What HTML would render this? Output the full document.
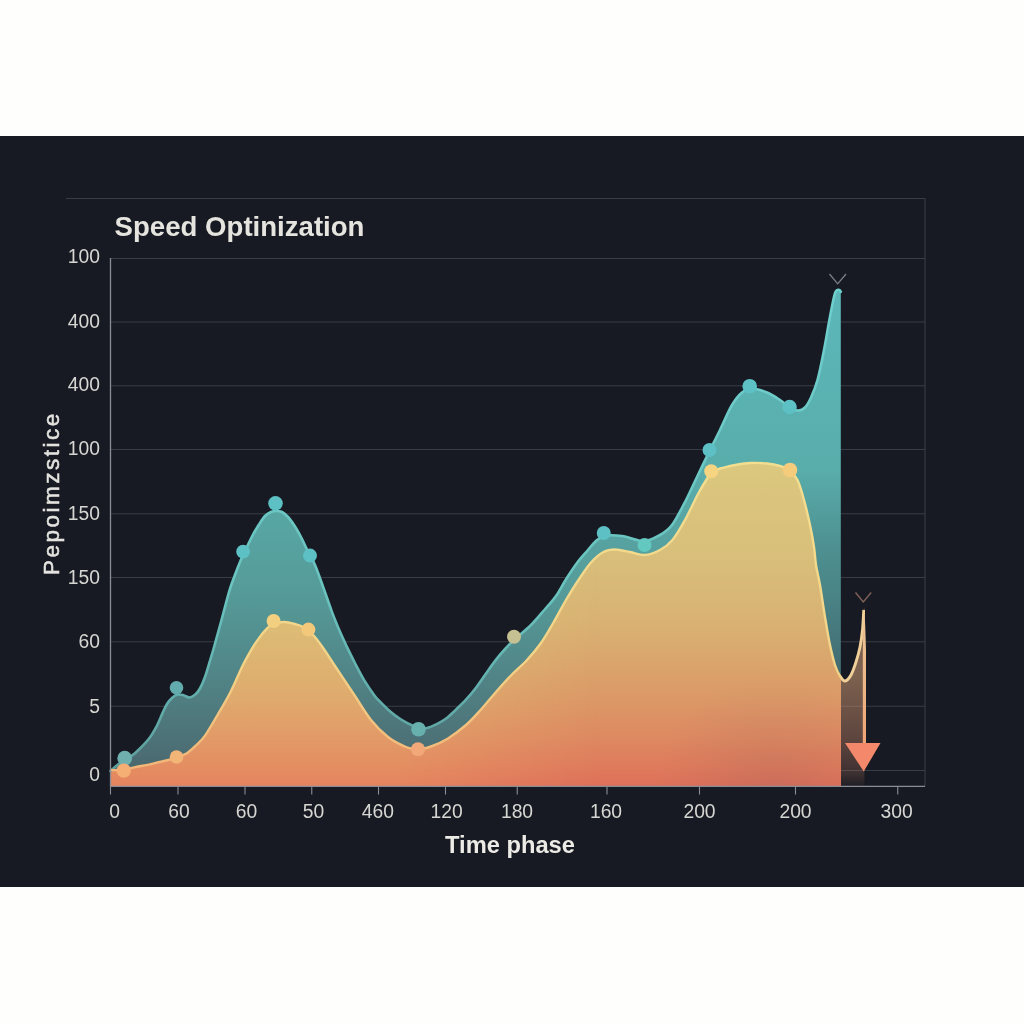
<!DOCTYPE html>
<html><head><meta charset="utf-8"><title>Speed Optinization</title>
<style>
html,body{margin:0;padding:0;background:#fefefd;}
body{width:1024px;height:1024px;overflow:hidden;position:relative;font-family:"Liberation Sans",sans-serif;}
svg{position:absolute;left:0;top:0;display:block}
text{font-family:"Liberation Sans",sans-serif;}
</style></head><body>
<svg width="1024" height="1024" viewBox="0 0 1024 1024">
<defs>
<linearGradient id="gt" x1="0" y1="290" x2="0" y2="786" gradientUnits="userSpaceOnUse">
<stop offset="0" stop-color="#5cb7b9"/>
<stop offset="0.35" stop-color="#59aeac"/>
<stop offset="0.62" stop-color="#559a98"/>
<stop offset="0.78" stop-color="#518486"/>
<stop offset="0.92" stop-color="#4c7076"/>
<stop offset="1" stop-color="#486268"/>
</linearGradient>
<linearGradient id="go" x1="0" y1="462" x2="0" y2="786" gradientUnits="userSpaceOnUse">
<stop offset="0" stop-color="#dcc87f"/>
<stop offset="0.30" stop-color="#d8be7a"/>
<stop offset="0.49" stop-color="#d9b273"/>
<stop offset="0.61" stop-color="#daa66d"/>
<stop offset="0.735" stop-color="#dc9867"/>
<stop offset="0.85" stop-color="#de8961"/>
<stop offset="0.94" stop-color="#df7b5c"/>
<stop offset="1" stop-color="#de705a"/>
</linearGradient>
<linearGradient id="gob" x1="0" y1="600" x2="0" y2="786" gradientUnits="userSpaceOnUse">
<stop offset="0" stop-color="#e1cd7d" stop-opacity="0.42"/>
<stop offset="0.5" stop-color="#e4c677" stop-opacity="0.40"/>
<stop offset="0.76" stop-color="#eab873" stop-opacity="0.36"/>
<stop offset="1" stop-color="#f2ac6a" stop-opacity="0.33"/>
</linearGradient>
<linearGradient id="gobm" x1="110" y1="0" x2="600" y2="0" gradientUnits="userSpaceOnUse">
<stop offset="0" stop-color="#fff"/>
<stop offset="0.6" stop-color="#fff"/>
<stop offset="1" stop-color="#000"/>
</linearGradient>
<mask id="mob" maskUnits="userSpaceOnUse" x="100" y="430" width="520" height="370"><rect x="100" y="430" width="520" height="370" fill="url(#gobm)"/></mask>
<radialGradient id="god" cx="775" cy="795" r="120" gradientUnits="userSpaceOnUse">
<stop offset="0" stop-color="#8a5a5a" stop-opacity="0.22"/>
<stop offset="0.5" stop-color="#8a5a5a" stop-opacity="0.10"/>
<stop offset="1" stop-color="#8a5a5a" stop-opacity="0"/>
</radialGradient>
<clipPath id="co"><path d="M110.3,770.0 C112.4,770.0 119.0,770.5 123.0,770.0 C127.0,769.5 129.5,768.3 134.3,767.3 C139.1,766.3 146.1,765.1 152.0,763.8 C157.9,762.5 165.3,760.8 169.5,759.7 C173.7,758.6 174.1,758.1 177.0,757.0 C179.9,755.9 183.8,755.2 187.0,753.2 C190.2,751.2 193.4,747.9 196.4,745.0 C199.4,742.1 201.5,740.6 205.0,735.6 C208.5,730.6 213.3,722.1 217.5,715.0 C221.7,707.9 225.8,701.2 230.0,693.0 C234.2,684.8 238.8,673.5 242.5,666.0 C246.2,658.5 249.8,652.4 252.5,647.8 C255.2,643.2 256.7,641.3 258.8,638.4 C260.8,635.5 262.9,632.8 265.0,630.6 C267.1,628.4 268.1,626.4 271.2,625.0 C274.4,623.6 279.6,622.1 283.8,622.0 C287.9,621.9 292.9,623.5 296.2,624.4 C299.6,625.3 301.1,625.7 304.0,627.5 C306.9,629.3 310.3,632.0 313.4,635.3 C316.5,638.6 319.2,642.4 322.8,647.5 C326.4,652.6 330.5,659.2 335.0,666.0 C339.5,672.8 346.5,683.2 350.0,688.5 C353.5,693.8 352.5,692.2 356.0,697.5 C359.5,702.8 365.7,713.4 371.0,720.0 C376.3,726.6 382.2,732.5 388.0,737.0 C393.8,741.5 401.0,744.9 406.0,747.0 C411.0,749.1 413.8,749.6 418.0,749.5 C422.2,749.4 426.0,748.3 431.0,746.5 C436.0,744.7 442.2,742.1 448.0,738.5 C453.8,734.9 460.5,729.8 466.0,725.0 C471.5,720.2 476.0,715.0 481.0,709.5 C486.0,704.0 491.0,697.7 496.0,692.0 C501.0,686.3 505.8,680.8 511.0,675.5 C516.2,670.2 522.0,665.4 527.0,660.0 C532.0,654.6 536.6,649.2 541.0,643.0 C545.4,636.8 549.3,629.7 553.5,622.5 C557.7,615.3 561.8,607.1 566.0,600.0 C570.2,592.9 574.3,586.2 578.5,580.0 C582.7,573.8 586.8,567.2 591.0,562.5 C595.2,557.8 599.5,554.2 603.5,552.0 C607.5,549.8 610.6,549.5 615.0,549.5 C619.4,549.5 625.1,551.1 630.0,552.0 C634.9,552.9 639.5,555.3 644.5,555.0 C649.5,554.7 655.3,552.5 660.0,550.0 C664.7,547.5 668.3,545.0 672.5,540.0 C676.7,535.0 680.8,527.5 685.0,520.0 C689.2,512.5 693.8,502.0 697.5,495.0 C701.2,488.0 704.9,482.0 707.5,478.0 C710.1,474.0 710.5,472.7 713.0,471.0 C715.5,469.3 718.8,469.0 722.5,468.0 C726.2,467.0 730.4,465.8 735.0,465.0 C739.6,464.2 744.7,463.2 750.0,463.0 C755.3,462.8 762.0,463.0 767.0,463.5 C772.0,464.0 776.3,464.9 780.0,466.0 C783.7,467.1 786.1,467.7 789.0,470.0 C791.9,472.3 795.0,475.0 797.5,480.0 C800.0,485.0 801.9,492.5 804.0,500.0 C806.1,507.5 808.3,517.2 810.0,525.0 C811.7,532.8 813.0,540.3 814.0,547.0 C815.0,553.7 815.0,558.7 816.0,565.0 C817.0,571.3 818.5,576.3 820.0,585.0 C821.5,593.7 823.3,607.0 825.0,617.0 C826.7,627.0 828.3,637.0 830.0,645.0 C831.7,653.0 833.3,659.8 835.0,665.0 C836.7,670.2 838.3,673.3 840.0,676.0 C841.7,678.7 843.2,681.2 845.0,681.0 C846.8,680.8 849.2,678.2 851.0,675.0 C852.8,671.8 854.5,666.7 856.0,662.0 C857.5,657.3 858.9,652.3 860.0,647.0 C861.1,641.7 861.9,636.2 862.5,630.0 C863.1,623.8 863.5,613.3 863.8,610.0 L840.5,786.3 L110.5,786.3 Z"/></clipPath>
<linearGradient id="ga" x1="0" y1="676" x2="0" y2="786" gradientUnits="userSpaceOnUse">
<stop offset="0" stop-color="#e4aa7d" stop-opacity="0.50"/>
<stop offset="0.6" stop-color="#e19673" stop-opacity="0.34"/>
<stop offset="0.88" stop-color="#dc8c6e" stop-opacity="0.2"/>
<stop offset="1" stop-color="#dc8c6e" stop-opacity="0.04"/>
</linearGradient>
<linearGradient id="gl" x1="0" y1="600" x2="0" y2="745" gradientUnits="userSpaceOnUse">
<stop offset="0" stop-color="#efca98"/>
<stop offset="0.5" stop-color="#ecb98a"/>
<stop offset="1" stop-color="#eea274"/>
</linearGradient>
<linearGradient id="gos" x1="0" y1="462" x2="0" y2="786" gradientUnits="userSpaceOnUse">
<stop offset="0" stop-color="#f3de90"/>
<stop offset="0.6" stop-color="#f2d488"/>
<stop offset="0.85" stop-color="#f2be7c"/>
<stop offset="1" stop-color="#f2b276"/>
</linearGradient>
<linearGradient id="gts" x1="0" y1="290" x2="0" y2="786" gradientUnits="userSpaceOnUse">
<stop offset="0" stop-color="#6fcfcd"/>
<stop offset="0.6" stop-color="#6ac4c0"/>
<stop offset="0.82" stop-color="#62aeac"/>
<stop offset="1" stop-color="#5c9c9a"/>
</linearGradient>
<linearGradient id="gd" x1="0" y1="470" x2="0" y2="690" gradientUnits="userSpaceOnUse">
<stop offset="0" stop-color="#1c2a3c" stop-opacity="0"/>
<stop offset="0.4" stop-color="#1c2a3c" stop-opacity="0.16"/>
<stop offset="1" stop-color="#1c2a3c" stop-opacity="0.3"/>
</linearGradient>
<clipPath id="ct"><path d="M110.5,771.0 C111.8,769.9 115.6,766.4 118.0,764.5 C120.4,762.6 122.7,761.0 125.0,759.5 C127.3,758.0 129.5,757.4 132.0,755.6 C134.5,753.8 137.1,751.4 140.0,748.5 C142.9,745.6 146.7,741.7 149.5,738.0 C152.3,734.3 154.4,730.4 156.6,726.3 C158.8,722.2 160.7,717.1 162.4,713.4 C164.1,709.7 165.4,706.6 167.0,704.0 C168.6,701.4 170.2,699.6 172.0,698.0 C173.8,696.4 175.8,695.1 177.7,694.6 C179.6,694.1 181.6,694.7 183.5,695.2 C185.4,695.7 187.4,697.6 189.4,697.5 C191.4,697.4 193.5,696.1 195.3,694.6 C197.1,693.1 198.4,691.4 200.0,688.5 C201.6,685.6 203.5,681.1 205.0,677.0 C206.5,672.9 207.6,668.7 209.0,664.0 C210.4,659.3 211.4,656.3 213.5,649.0 C215.6,641.7 218.9,629.5 221.5,620.0 C224.1,610.5 226.9,599.1 229.0,592.0 C231.1,584.9 232.2,582.5 234.0,577.5 C235.8,572.5 237.9,566.9 240.0,562.0 C242.1,557.1 244.4,552.4 246.5,548.0 C248.6,543.6 250.4,539.4 252.5,535.5 C254.6,531.6 256.9,527.8 259.0,524.5 C261.1,521.2 263.0,518.1 265.0,516.0 C267.0,513.9 269.2,512.8 271.0,512.0 C272.8,511.2 273.8,511.0 275.6,511.0 C277.4,511.0 279.9,510.9 282.0,512.0 C284.1,513.1 286.4,515.2 288.5,517.5 C290.6,519.8 292.6,522.8 294.7,526.0 C296.8,529.2 298.9,533.1 301.0,537.0 C303.1,540.9 304.7,544.8 307.0,549.5 C309.3,554.2 312.3,558.7 315.0,565.0 C317.7,571.3 320.6,579.8 323.3,587.4 C326.1,595.0 328.8,603.3 331.5,610.6 C334.2,617.9 337.0,624.7 339.7,631.1 C342.4,637.5 345.2,643.2 347.9,648.9 C350.6,654.6 353.4,660.0 356.1,665.3 C358.8,670.5 361.3,675.5 364.3,680.4 C367.3,685.3 371.6,691.6 373.9,694.8 C376.2,698.0 375.8,697.3 378.1,699.7 C380.4,702.1 384.6,706.5 387.9,709.4 C391.2,712.3 394.4,715.0 397.7,717.2 C400.9,719.5 404.1,721.4 407.4,723.1 C410.6,724.8 413.9,726.7 417.2,727.5 C420.5,728.3 423.8,728.6 427.0,728.0 C430.2,727.4 433.4,725.7 436.7,724.1 C439.9,722.5 443.2,720.7 446.5,718.2 C449.8,715.8 453.0,712.5 456.2,709.4 C459.5,706.3 462.7,703.3 466.0,699.7 C469.3,696.1 472.6,692.2 475.8,688.0 C479.1,683.8 482.2,678.9 485.5,674.3 C488.8,669.7 491.9,665.0 495.3,660.6 C498.7,656.2 502.9,651.4 506.0,648.0 C509.1,644.6 509.8,643.8 514.0,640.0 C518.2,636.2 525.7,630.3 531.0,625.0 C536.3,619.7 541.8,612.8 546.0,608.0 C550.2,603.2 552.6,600.9 556.0,596.0 C559.4,591.1 563.0,584.0 566.5,578.5 C570.0,573.0 573.5,567.7 577.0,563.0 C580.5,558.3 584.6,554.0 587.6,550.5 C590.6,547.0 592.3,544.4 595.0,542.0 C597.7,539.6 599.5,537.0 604.0,536.0 C608.5,535.0 615.3,535.2 622.0,536.0 C628.7,536.8 637.7,541.2 644.0,541.0 C650.3,540.8 655.3,537.7 660.0,535.0 C664.7,532.3 667.8,530.5 672.0,525.0 C676.2,519.5 680.8,510.0 685.0,502.0 C689.2,494.0 693.0,485.3 697.0,477.0 C701.0,468.7 705.2,459.8 709.0,452.0 C712.8,444.2 716.2,437.8 720.0,430.0 C723.8,422.2 728.3,411.2 732.0,405.0 C735.7,398.8 738.7,395.2 742.0,392.5 C745.3,389.8 747.8,388.5 752.0,388.5 C756.2,388.5 762.3,390.6 767.0,392.5 C771.7,394.4 776.3,397.6 780.0,400.0 C783.7,402.4 786.0,405.2 789.0,407.0 C792.0,408.8 795.3,410.4 798.0,410.5 C800.7,410.6 802.8,409.7 805.0,407.5 C807.2,405.3 808.9,402.1 811.0,397.5 C813.1,392.9 815.3,387.9 817.5,380.0 C819.7,372.1 822.1,359.7 824.0,350.0 C825.9,340.3 827.5,330.3 829.0,322.0 C830.5,313.7 832.3,304.8 833.3,300.0 C834.3,295.2 834.4,294.8 835.0,293.2 C835.6,291.6 836.1,290.8 836.8,290.3 C837.5,289.8 838.6,289.8 839.3,290.0 C840.0,290.2 840.5,291.5 840.8,291.8 L840.8,786.3 L110.5,786.3 Z"/></clipPath>
<clipPath id="cm"><rect x="0" y="0" width="841" height="1024"/></clipPath>
<clipPath id="ca"><rect x="841" y="0" width="24" height="1024"/></clipPath>
</defs>
<rect x="0" y="0" width="1024" height="1024" fill="#fefefd"/>
<rect x="0" y="136" width="1024" height="751" fill="#171a22"/>
<g stroke="#383c46" stroke-width="1.1" fill="none">
<line x1="66" y1="198.5" x2="925" y2="198.5"/>
<line x1="925" y1="198" x2="925" y2="786.3"/>
<line x1="110.5" y1="258.5" x2="925" y2="258.5"/>
<line x1="110.5" y1="322" x2="925" y2="322"/>
<line x1="110.5" y1="385.75" x2="925" y2="385.75"/>
<line x1="110.5" y1="449.5" x2="925" y2="449.5"/>
<line x1="110.5" y1="513.75" x2="925" y2="513.75"/>
<line x1="110.5" y1="577.5" x2="925" y2="577.5"/>
<line x1="110.5" y1="641.75" x2="925" y2="641.75"/>
<line x1="110.5" y1="706.25" x2="925" y2="706.25"/>
<line x1="110.5" y1="770.5" x2="925" y2="770.5"/>
</g>
<path d="M110.5,771.0 C111.8,769.9 115.6,766.4 118.0,764.5 C120.4,762.6 122.7,761.0 125.0,759.5 C127.3,758.0 129.5,757.4 132.0,755.6 C134.5,753.8 137.1,751.4 140.0,748.5 C142.9,745.6 146.7,741.7 149.5,738.0 C152.3,734.3 154.4,730.4 156.6,726.3 C158.8,722.2 160.7,717.1 162.4,713.4 C164.1,709.7 165.4,706.6 167.0,704.0 C168.6,701.4 170.2,699.6 172.0,698.0 C173.8,696.4 175.8,695.1 177.7,694.6 C179.6,694.1 181.6,694.7 183.5,695.2 C185.4,695.7 187.4,697.6 189.4,697.5 C191.4,697.4 193.5,696.1 195.3,694.6 C197.1,693.1 198.4,691.4 200.0,688.5 C201.6,685.6 203.5,681.1 205.0,677.0 C206.5,672.9 207.6,668.7 209.0,664.0 C210.4,659.3 211.4,656.3 213.5,649.0 C215.6,641.7 218.9,629.5 221.5,620.0 C224.1,610.5 226.9,599.1 229.0,592.0 C231.1,584.9 232.2,582.5 234.0,577.5 C235.8,572.5 237.9,566.9 240.0,562.0 C242.1,557.1 244.4,552.4 246.5,548.0 C248.6,543.6 250.4,539.4 252.5,535.5 C254.6,531.6 256.9,527.8 259.0,524.5 C261.1,521.2 263.0,518.1 265.0,516.0 C267.0,513.9 269.2,512.8 271.0,512.0 C272.8,511.2 273.8,511.0 275.6,511.0 C277.4,511.0 279.9,510.9 282.0,512.0 C284.1,513.1 286.4,515.2 288.5,517.5 C290.6,519.8 292.6,522.8 294.7,526.0 C296.8,529.2 298.9,533.1 301.0,537.0 C303.1,540.9 304.7,544.8 307.0,549.5 C309.3,554.2 312.3,558.7 315.0,565.0 C317.7,571.3 320.6,579.8 323.3,587.4 C326.1,595.0 328.8,603.3 331.5,610.6 C334.2,617.9 337.0,624.7 339.7,631.1 C342.4,637.5 345.2,643.2 347.9,648.9 C350.6,654.6 353.4,660.0 356.1,665.3 C358.8,670.5 361.3,675.5 364.3,680.4 C367.3,685.3 371.6,691.6 373.9,694.8 C376.2,698.0 375.8,697.3 378.1,699.7 C380.4,702.1 384.6,706.5 387.9,709.4 C391.2,712.3 394.4,715.0 397.7,717.2 C400.9,719.5 404.1,721.4 407.4,723.1 C410.6,724.8 413.9,726.7 417.2,727.5 C420.5,728.3 423.8,728.6 427.0,728.0 C430.2,727.4 433.4,725.7 436.7,724.1 C439.9,722.5 443.2,720.7 446.5,718.2 C449.8,715.8 453.0,712.5 456.2,709.4 C459.5,706.3 462.7,703.3 466.0,699.7 C469.3,696.1 472.6,692.2 475.8,688.0 C479.1,683.8 482.2,678.9 485.5,674.3 C488.8,669.7 491.9,665.0 495.3,660.6 C498.7,656.2 502.9,651.4 506.0,648.0 C509.1,644.6 509.8,643.8 514.0,640.0 C518.2,636.2 525.7,630.3 531.0,625.0 C536.3,619.7 541.8,612.8 546.0,608.0 C550.2,603.2 552.6,600.9 556.0,596.0 C559.4,591.1 563.0,584.0 566.5,578.5 C570.0,573.0 573.5,567.7 577.0,563.0 C580.5,558.3 584.6,554.0 587.6,550.5 C590.6,547.0 592.3,544.4 595.0,542.0 C597.7,539.6 599.5,537.0 604.0,536.0 C608.5,535.0 615.3,535.2 622.0,536.0 C628.7,536.8 637.7,541.2 644.0,541.0 C650.3,540.8 655.3,537.7 660.0,535.0 C664.7,532.3 667.8,530.5 672.0,525.0 C676.2,519.5 680.8,510.0 685.0,502.0 C689.2,494.0 693.0,485.3 697.0,477.0 C701.0,468.7 705.2,459.8 709.0,452.0 C712.8,444.2 716.2,437.8 720.0,430.0 C723.8,422.2 728.3,411.2 732.0,405.0 C735.7,398.8 738.7,395.2 742.0,392.5 C745.3,389.8 747.8,388.5 752.0,388.5 C756.2,388.5 762.3,390.6 767.0,392.5 C771.7,394.4 776.3,397.6 780.0,400.0 C783.7,402.4 786.0,405.2 789.0,407.0 C792.0,408.8 795.3,410.4 798.0,410.5 C800.7,410.6 802.8,409.7 805.0,407.5 C807.2,405.3 808.9,402.1 811.0,397.5 C813.1,392.9 815.3,387.9 817.5,380.0 C819.7,372.1 822.1,359.7 824.0,350.0 C825.9,340.3 827.5,330.3 829.0,322.0 C830.5,313.7 832.3,304.8 833.3,300.0 C834.3,295.2 834.4,294.8 835.0,293.2 C835.6,291.6 836.1,290.8 836.8,290.3 C837.5,289.8 838.6,289.8 839.3,290.0 C840.0,290.2 840.5,291.5 840.8,291.8 L840.8,786.3 L110.5,786.3 Z" fill="url(#gt)"/>
<rect x="792" y="470" width="49" height="222" fill="url(#gd)" clip-path="url(#ct)"/>
<path d="M110.3,770.0 C112.4,770.0 119.0,770.5 123.0,770.0 C127.0,769.5 129.5,768.3 134.3,767.3 C139.1,766.3 146.1,765.1 152.0,763.8 C157.9,762.5 165.3,760.8 169.5,759.7 C173.7,758.6 174.1,758.1 177.0,757.0 C179.9,755.9 183.8,755.2 187.0,753.2 C190.2,751.2 193.4,747.9 196.4,745.0 C199.4,742.1 201.5,740.6 205.0,735.6 C208.5,730.6 213.3,722.1 217.5,715.0 C221.7,707.9 225.8,701.2 230.0,693.0 C234.2,684.8 238.8,673.5 242.5,666.0 C246.2,658.5 249.8,652.4 252.5,647.8 C255.2,643.2 256.7,641.3 258.8,638.4 C260.8,635.5 262.9,632.8 265.0,630.6 C267.1,628.4 268.1,626.4 271.2,625.0 C274.4,623.6 279.6,622.1 283.8,622.0 C287.9,621.9 292.9,623.5 296.2,624.4 C299.6,625.3 301.1,625.7 304.0,627.5 C306.9,629.3 310.3,632.0 313.4,635.3 C316.5,638.6 319.2,642.4 322.8,647.5 C326.4,652.6 330.5,659.2 335.0,666.0 C339.5,672.8 346.5,683.2 350.0,688.5 C353.5,693.8 352.5,692.2 356.0,697.5 C359.5,702.8 365.7,713.4 371.0,720.0 C376.3,726.6 382.2,732.5 388.0,737.0 C393.8,741.5 401.0,744.9 406.0,747.0 C411.0,749.1 413.8,749.6 418.0,749.5 C422.2,749.4 426.0,748.3 431.0,746.5 C436.0,744.7 442.2,742.1 448.0,738.5 C453.8,734.9 460.5,729.8 466.0,725.0 C471.5,720.2 476.0,715.0 481.0,709.5 C486.0,704.0 491.0,697.7 496.0,692.0 C501.0,686.3 505.8,680.8 511.0,675.5 C516.2,670.2 522.0,665.4 527.0,660.0 C532.0,654.6 536.6,649.2 541.0,643.0 C545.4,636.8 549.3,629.7 553.5,622.5 C557.7,615.3 561.8,607.1 566.0,600.0 C570.2,592.9 574.3,586.2 578.5,580.0 C582.7,573.8 586.8,567.2 591.0,562.5 C595.2,557.8 599.5,554.2 603.5,552.0 C607.5,549.8 610.6,549.5 615.0,549.5 C619.4,549.5 625.1,551.1 630.0,552.0 C634.9,552.9 639.5,555.3 644.5,555.0 C649.5,554.7 655.3,552.5 660.0,550.0 C664.7,547.5 668.3,545.0 672.5,540.0 C676.7,535.0 680.8,527.5 685.0,520.0 C689.2,512.5 693.8,502.0 697.5,495.0 C701.2,488.0 704.9,482.0 707.5,478.0 C710.1,474.0 710.5,472.7 713.0,471.0 C715.5,469.3 718.8,469.0 722.5,468.0 C726.2,467.0 730.4,465.8 735.0,465.0 C739.6,464.2 744.7,463.2 750.0,463.0 C755.3,462.8 762.0,463.0 767.0,463.5 C772.0,464.0 776.3,464.9 780.0,466.0 C783.7,467.1 786.1,467.7 789.0,470.0 C791.9,472.3 795.0,475.0 797.5,480.0 C800.0,485.0 801.9,492.5 804.0,500.0 C806.1,507.5 808.3,517.2 810.0,525.0 C811.7,532.8 813.0,540.3 814.0,547.0 C815.0,553.7 815.0,558.7 816.0,565.0 C817.0,571.3 818.5,576.3 820.0,585.0 C821.5,593.7 823.3,607.0 825.0,617.0 C826.7,627.0 828.3,637.0 830.0,645.0 C831.7,653.0 833.3,659.8 835.0,665.0 C836.7,670.2 838.3,673.3 840.0,676.0 C841.7,678.7 843.2,681.2 845.0,681.0 C846.8,680.8 849.2,678.2 851.0,675.0 C852.8,671.8 854.5,666.7 856.0,662.0 C857.5,657.3 858.9,652.3 860.0,647.0 C861.1,641.7 861.9,636.2 862.5,630.0 C863.1,623.8 863.5,613.3 863.8,610.0 L864.5,786.3 L110.5,786.3 Z" fill="url(#ga)" clip-path="url(#ca)"/>
<path d="M110.3,770.0 C112.4,770.0 119.0,770.5 123.0,770.0 C127.0,769.5 129.5,768.3 134.3,767.3 C139.1,766.3 146.1,765.1 152.0,763.8 C157.9,762.5 165.3,760.8 169.5,759.7 C173.7,758.6 174.1,758.1 177.0,757.0 C179.9,755.9 183.8,755.2 187.0,753.2 C190.2,751.2 193.4,747.9 196.4,745.0 C199.4,742.1 201.5,740.6 205.0,735.6 C208.5,730.6 213.3,722.1 217.5,715.0 C221.7,707.9 225.8,701.2 230.0,693.0 C234.2,684.8 238.8,673.5 242.5,666.0 C246.2,658.5 249.8,652.4 252.5,647.8 C255.2,643.2 256.7,641.3 258.8,638.4 C260.8,635.5 262.9,632.8 265.0,630.6 C267.1,628.4 268.1,626.4 271.2,625.0 C274.4,623.6 279.6,622.1 283.8,622.0 C287.9,621.9 292.9,623.5 296.2,624.4 C299.6,625.3 301.1,625.7 304.0,627.5 C306.9,629.3 310.3,632.0 313.4,635.3 C316.5,638.6 319.2,642.4 322.8,647.5 C326.4,652.6 330.5,659.2 335.0,666.0 C339.5,672.8 346.5,683.2 350.0,688.5 C353.5,693.8 352.5,692.2 356.0,697.5 C359.5,702.8 365.7,713.4 371.0,720.0 C376.3,726.6 382.2,732.5 388.0,737.0 C393.8,741.5 401.0,744.9 406.0,747.0 C411.0,749.1 413.8,749.6 418.0,749.5 C422.2,749.4 426.0,748.3 431.0,746.5 C436.0,744.7 442.2,742.1 448.0,738.5 C453.8,734.9 460.5,729.8 466.0,725.0 C471.5,720.2 476.0,715.0 481.0,709.5 C486.0,704.0 491.0,697.7 496.0,692.0 C501.0,686.3 505.8,680.8 511.0,675.5 C516.2,670.2 522.0,665.4 527.0,660.0 C532.0,654.6 536.6,649.2 541.0,643.0 C545.4,636.8 549.3,629.7 553.5,622.5 C557.7,615.3 561.8,607.1 566.0,600.0 C570.2,592.9 574.3,586.2 578.5,580.0 C582.7,573.8 586.8,567.2 591.0,562.5 C595.2,557.8 599.5,554.2 603.5,552.0 C607.5,549.8 610.6,549.5 615.0,549.5 C619.4,549.5 625.1,551.1 630.0,552.0 C634.9,552.9 639.5,555.3 644.5,555.0 C649.5,554.7 655.3,552.5 660.0,550.0 C664.7,547.5 668.3,545.0 672.5,540.0 C676.7,535.0 680.8,527.5 685.0,520.0 C689.2,512.5 693.8,502.0 697.5,495.0 C701.2,488.0 704.9,482.0 707.5,478.0 C710.1,474.0 710.5,472.7 713.0,471.0 C715.5,469.3 718.8,469.0 722.5,468.0 C726.2,467.0 730.4,465.8 735.0,465.0 C739.6,464.2 744.7,463.2 750.0,463.0 C755.3,462.8 762.0,463.0 767.0,463.5 C772.0,464.0 776.3,464.9 780.0,466.0 C783.7,467.1 786.1,467.7 789.0,470.0 C791.9,472.3 795.0,475.0 797.5,480.0 C800.0,485.0 801.9,492.5 804.0,500.0 C806.1,507.5 808.3,517.2 810.0,525.0 C811.7,532.8 813.0,540.3 814.0,547.0 C815.0,553.7 815.0,558.7 816.0,565.0 C817.0,571.3 818.5,576.3 820.0,585.0 C821.5,593.7 823.3,607.0 825.0,617.0 C826.7,627.0 828.3,637.0 830.0,645.0 C831.7,653.0 833.3,659.8 835.0,665.0 C836.7,670.2 838.3,673.3 840.0,676.0 C841.7,678.7 843.2,681.2 845.0,681.0 C846.8,680.8 849.2,678.2 851.0,675.0 C852.8,671.8 854.5,666.7 856.0,662.0 C857.5,657.3 858.9,652.3 860.0,647.0 C861.1,641.7 861.9,636.2 862.5,630.0 C863.1,623.8 863.5,613.3 863.8,610.0 L864.5,786.3 L110.5,786.3 Z" fill="url(#go)" clip-path="url(#cm)"/>
<g mask="url(#mob)"><rect x="110" y="440" width="500" height="346.3" fill="url(#gob)" clip-path="url(#co)"/></g>
<rect x="620" y="560" width="220.5" height="226" fill="url(#god)" clip-path="url(#co)"/>
<path d="M110.5,771.0 C111.8,769.9 115.6,766.4 118.0,764.5 C120.4,762.6 122.7,761.0 125.0,759.5 C127.3,758.0 129.5,757.4 132.0,755.6 C134.5,753.8 137.1,751.4 140.0,748.5 C142.9,745.6 146.7,741.7 149.5,738.0 C152.3,734.3 154.4,730.4 156.6,726.3 C158.8,722.2 160.7,717.1 162.4,713.4 C164.1,709.7 165.4,706.6 167.0,704.0 C168.6,701.4 170.2,699.6 172.0,698.0 C173.8,696.4 175.8,695.1 177.7,694.6 C179.6,694.1 181.6,694.7 183.5,695.2 C185.4,695.7 187.4,697.6 189.4,697.5 C191.4,697.4 193.5,696.1 195.3,694.6 C197.1,693.1 198.4,691.4 200.0,688.5 C201.6,685.6 203.5,681.1 205.0,677.0 C206.5,672.9 207.6,668.7 209.0,664.0 C210.4,659.3 211.4,656.3 213.5,649.0 C215.6,641.7 218.9,629.5 221.5,620.0 C224.1,610.5 226.9,599.1 229.0,592.0 C231.1,584.9 232.2,582.5 234.0,577.5 C235.8,572.5 237.9,566.9 240.0,562.0 C242.1,557.1 244.4,552.4 246.5,548.0 C248.6,543.6 250.4,539.4 252.5,535.5 C254.6,531.6 256.9,527.8 259.0,524.5 C261.1,521.2 263.0,518.1 265.0,516.0 C267.0,513.9 269.2,512.8 271.0,512.0 C272.8,511.2 273.8,511.0 275.6,511.0 C277.4,511.0 279.9,510.9 282.0,512.0 C284.1,513.1 286.4,515.2 288.5,517.5 C290.6,519.8 292.6,522.8 294.7,526.0 C296.8,529.2 298.9,533.1 301.0,537.0 C303.1,540.9 304.7,544.8 307.0,549.5 C309.3,554.2 312.3,558.7 315.0,565.0 C317.7,571.3 320.6,579.8 323.3,587.4 C326.1,595.0 328.8,603.3 331.5,610.6 C334.2,617.9 337.0,624.7 339.7,631.1 C342.4,637.5 345.2,643.2 347.9,648.9 C350.6,654.6 353.4,660.0 356.1,665.3 C358.8,670.5 361.3,675.5 364.3,680.4 C367.3,685.3 371.6,691.6 373.9,694.8 C376.2,698.0 375.8,697.3 378.1,699.7 C380.4,702.1 384.6,706.5 387.9,709.4 C391.2,712.3 394.4,715.0 397.7,717.2 C400.9,719.5 404.1,721.4 407.4,723.1 C410.6,724.8 413.9,726.7 417.2,727.5 C420.5,728.3 423.8,728.6 427.0,728.0 C430.2,727.4 433.4,725.7 436.7,724.1 C439.9,722.5 443.2,720.7 446.5,718.2 C449.8,715.8 453.0,712.5 456.2,709.4 C459.5,706.3 462.7,703.3 466.0,699.7 C469.3,696.1 472.6,692.2 475.8,688.0 C479.1,683.8 482.2,678.9 485.5,674.3 C488.8,669.7 491.9,665.0 495.3,660.6 C498.7,656.2 502.9,651.4 506.0,648.0 C509.1,644.6 509.8,643.8 514.0,640.0 C518.2,636.2 525.7,630.3 531.0,625.0 C536.3,619.7 541.8,612.8 546.0,608.0 C550.2,603.2 552.6,600.9 556.0,596.0 C559.4,591.1 563.0,584.0 566.5,578.5 C570.0,573.0 573.5,567.7 577.0,563.0 C580.5,558.3 584.6,554.0 587.6,550.5 C590.6,547.0 592.3,544.4 595.0,542.0 C597.7,539.6 599.5,537.0 604.0,536.0 C608.5,535.0 615.3,535.2 622.0,536.0 C628.7,536.8 637.7,541.2 644.0,541.0 C650.3,540.8 655.3,537.7 660.0,535.0 C664.7,532.3 667.8,530.5 672.0,525.0 C676.2,519.5 680.8,510.0 685.0,502.0 C689.2,494.0 693.0,485.3 697.0,477.0 C701.0,468.7 705.2,459.8 709.0,452.0 C712.8,444.2 716.2,437.8 720.0,430.0 C723.8,422.2 728.3,411.2 732.0,405.0 C735.7,398.8 738.7,395.2 742.0,392.5 C745.3,389.8 747.8,388.5 752.0,388.5 C756.2,388.5 762.3,390.6 767.0,392.5 C771.7,394.4 776.3,397.6 780.0,400.0 C783.7,402.4 786.0,405.2 789.0,407.0 C792.0,408.8 795.3,410.4 798.0,410.5 C800.7,410.6 802.8,409.7 805.0,407.5 C807.2,405.3 808.9,402.1 811.0,397.5 C813.1,392.9 815.3,387.9 817.5,380.0 C819.7,372.1 822.1,359.7 824.0,350.0 C825.9,340.3 827.5,330.3 829.0,322.0 C830.5,313.7 832.3,304.8 833.3,300.0 C834.3,295.2 834.4,294.8 835.0,293.2 C835.6,291.6 836.1,290.8 836.8,290.3 C837.5,289.8 838.6,289.8 839.3,290.0 C840.0,290.2 840.5,291.5 840.8,291.8" fill="none" stroke="url(#gts)" stroke-width="2.6" stroke-linejoin="round" stroke-linecap="round"/>
<path d="M110.3,770.0 C112.4,770.0 119.0,770.5 123.0,770.0 C127.0,769.5 129.5,768.3 134.3,767.3 C139.1,766.3 146.1,765.1 152.0,763.8 C157.9,762.5 165.3,760.8 169.5,759.7 C173.7,758.6 174.1,758.1 177.0,757.0 C179.9,755.9 183.8,755.2 187.0,753.2 C190.2,751.2 193.4,747.9 196.4,745.0 C199.4,742.1 201.5,740.6 205.0,735.6 C208.5,730.6 213.3,722.1 217.5,715.0 C221.7,707.9 225.8,701.2 230.0,693.0 C234.2,684.8 238.8,673.5 242.5,666.0 C246.2,658.5 249.8,652.4 252.5,647.8 C255.2,643.2 256.7,641.3 258.8,638.4 C260.8,635.5 262.9,632.8 265.0,630.6 C267.1,628.4 268.1,626.4 271.2,625.0 C274.4,623.6 279.6,622.1 283.8,622.0 C287.9,621.9 292.9,623.5 296.2,624.4 C299.6,625.3 301.1,625.7 304.0,627.5 C306.9,629.3 310.3,632.0 313.4,635.3 C316.5,638.6 319.2,642.4 322.8,647.5 C326.4,652.6 330.5,659.2 335.0,666.0 C339.5,672.8 346.5,683.2 350.0,688.5 C353.5,693.8 352.5,692.2 356.0,697.5 C359.5,702.8 365.7,713.4 371.0,720.0 C376.3,726.6 382.2,732.5 388.0,737.0 C393.8,741.5 401.0,744.9 406.0,747.0 C411.0,749.1 413.8,749.6 418.0,749.5 C422.2,749.4 426.0,748.3 431.0,746.5 C436.0,744.7 442.2,742.1 448.0,738.5 C453.8,734.9 460.5,729.8 466.0,725.0 C471.5,720.2 476.0,715.0 481.0,709.5 C486.0,704.0 491.0,697.7 496.0,692.0 C501.0,686.3 505.8,680.8 511.0,675.5 C516.2,670.2 522.0,665.4 527.0,660.0 C532.0,654.6 536.6,649.2 541.0,643.0 C545.4,636.8 549.3,629.7 553.5,622.5 C557.7,615.3 561.8,607.1 566.0,600.0 C570.2,592.9 574.3,586.2 578.5,580.0 C582.7,573.8 586.8,567.2 591.0,562.5 C595.2,557.8 599.5,554.2 603.5,552.0 C607.5,549.8 610.6,549.5 615.0,549.5 C619.4,549.5 625.1,551.1 630.0,552.0 C634.9,552.9 639.5,555.3 644.5,555.0 C649.5,554.7 655.3,552.5 660.0,550.0 C664.7,547.5 668.3,545.0 672.5,540.0 C676.7,535.0 680.8,527.5 685.0,520.0 C689.2,512.5 693.8,502.0 697.5,495.0 C701.2,488.0 704.9,482.0 707.5,478.0 C710.1,474.0 710.5,472.7 713.0,471.0 C715.5,469.3 718.8,469.0 722.5,468.0 C726.2,467.0 730.4,465.8 735.0,465.0 C739.6,464.2 744.7,463.2 750.0,463.0 C755.3,462.8 762.0,463.0 767.0,463.5 C772.0,464.0 776.3,464.9 780.0,466.0 C783.7,467.1 786.1,467.7 789.0,470.0 C791.9,472.3 795.0,475.0 797.5,480.0 C800.0,485.0 801.9,492.5 804.0,500.0 C806.1,507.5 808.3,517.2 810.0,525.0 C811.7,532.8 813.0,540.3 814.0,547.0 C815.0,553.7 815.0,558.7 816.0,565.0 C817.0,571.3 818.5,576.3 820.0,585.0 C821.5,593.7 823.3,607.0 825.0,617.0 C826.7,627.0 828.3,637.0 830.0,645.0 C831.7,653.0 833.3,659.8 835.0,665.0 C836.7,670.2 838.3,673.3 840.0,676.0 C841.7,678.7 843.2,681.2 845.0,681.0 C846.8,680.8 849.2,678.2 851.0,675.0 C852.8,671.8 854.5,666.7 856.0,662.0 C857.5,657.3 858.9,652.3 860.0,647.0 C861.1,641.7 861.9,636.2 862.5,630.0 C863.1,623.8 863.5,613.3 863.8,610.0" fill="none" stroke="url(#gos)" stroke-width="2.4" stroke-linejoin="round" clip-path="url(#cm)"/>
<path d="M110.3,770.0 C112.4,770.0 119.0,770.5 123.0,770.0 C127.0,769.5 129.5,768.3 134.3,767.3 C139.1,766.3 146.1,765.1 152.0,763.8 C157.9,762.5 165.3,760.8 169.5,759.7 C173.7,758.6 174.1,758.1 177.0,757.0 C179.9,755.9 183.8,755.2 187.0,753.2 C190.2,751.2 193.4,747.9 196.4,745.0 C199.4,742.1 201.5,740.6 205.0,735.6 C208.5,730.6 213.3,722.1 217.5,715.0 C221.7,707.9 225.8,701.2 230.0,693.0 C234.2,684.8 238.8,673.5 242.5,666.0 C246.2,658.5 249.8,652.4 252.5,647.8 C255.2,643.2 256.7,641.3 258.8,638.4 C260.8,635.5 262.9,632.8 265.0,630.6 C267.1,628.4 268.1,626.4 271.2,625.0 C274.4,623.6 279.6,622.1 283.8,622.0 C287.9,621.9 292.9,623.5 296.2,624.4 C299.6,625.3 301.1,625.7 304.0,627.5 C306.9,629.3 310.3,632.0 313.4,635.3 C316.5,638.6 319.2,642.4 322.8,647.5 C326.4,652.6 330.5,659.2 335.0,666.0 C339.5,672.8 346.5,683.2 350.0,688.5 C353.5,693.8 352.5,692.2 356.0,697.5 C359.5,702.8 365.7,713.4 371.0,720.0 C376.3,726.6 382.2,732.5 388.0,737.0 C393.8,741.5 401.0,744.9 406.0,747.0 C411.0,749.1 413.8,749.6 418.0,749.5 C422.2,749.4 426.0,748.3 431.0,746.5 C436.0,744.7 442.2,742.1 448.0,738.5 C453.8,734.9 460.5,729.8 466.0,725.0 C471.5,720.2 476.0,715.0 481.0,709.5 C486.0,704.0 491.0,697.7 496.0,692.0 C501.0,686.3 505.8,680.8 511.0,675.5 C516.2,670.2 522.0,665.4 527.0,660.0 C532.0,654.6 536.6,649.2 541.0,643.0 C545.4,636.8 549.3,629.7 553.5,622.5 C557.7,615.3 561.8,607.1 566.0,600.0 C570.2,592.9 574.3,586.2 578.5,580.0 C582.7,573.8 586.8,567.2 591.0,562.5 C595.2,557.8 599.5,554.2 603.5,552.0 C607.5,549.8 610.6,549.5 615.0,549.5 C619.4,549.5 625.1,551.1 630.0,552.0 C634.9,552.9 639.5,555.3 644.5,555.0 C649.5,554.7 655.3,552.5 660.0,550.0 C664.7,547.5 668.3,545.0 672.5,540.0 C676.7,535.0 680.8,527.5 685.0,520.0 C689.2,512.5 693.8,502.0 697.5,495.0 C701.2,488.0 704.9,482.0 707.5,478.0 C710.1,474.0 710.5,472.7 713.0,471.0 C715.5,469.3 718.8,469.0 722.5,468.0 C726.2,467.0 730.4,465.8 735.0,465.0 C739.6,464.2 744.7,463.2 750.0,463.0 C755.3,462.8 762.0,463.0 767.0,463.5 C772.0,464.0 776.3,464.9 780.0,466.0 C783.7,467.1 786.1,467.7 789.0,470.0 C791.9,472.3 795.0,475.0 797.5,480.0 C800.0,485.0 801.9,492.5 804.0,500.0 C806.1,507.5 808.3,517.2 810.0,525.0 C811.7,532.8 813.0,540.3 814.0,547.0 C815.0,553.7 815.0,558.7 816.0,565.0 C817.0,571.3 818.5,576.3 820.0,585.0 C821.5,593.7 823.3,607.0 825.0,617.0 C826.7,627.0 828.3,637.0 830.0,645.0 C831.7,653.0 833.3,659.8 835.0,665.0 C836.7,670.2 838.3,673.3 840.0,676.0 C841.7,678.7 843.2,681.2 845.0,681.0 C846.8,680.8 849.2,678.2 851.0,675.0 C852.8,671.8 854.5,666.7 856.0,662.0 C857.5,657.3 858.9,652.3 860.0,647.0 C861.1,641.7 861.9,636.2 862.5,630.0 C863.1,623.8 863.5,613.3 863.8,610.0" fill="none" stroke="#f0d098" stroke-width="2.9" stroke-linejoin="round" clip-path="url(#ca)"/>
<polygon points="864.3,607.5 865.2,625 866,650 866,745 862.8,745 862.8,650 863.4,625" fill="url(#gl)"/>
<polygon points="845,743 880.5,743 863.75,771.5" fill="#f4886a"/>
<polyline points="829.5,274 837.7,283.8 846,274" fill="none" stroke="#7a8088" stroke-width="1.3"/>
<polyline points="855.5,592.5 863.3,602 871.2,592.5" fill="none" stroke="#80625a" stroke-width="1.4"/>
<g stroke="#8a8d96" stroke-width="1.3">
<line x1="110.5" y1="258" x2="110.5" y2="786.3"/>
<line x1="109.9" y1="786.3" x2="925" y2="786.3"/>
<line x1="110.5" y1="786.3" x2="110.5" y2="794.6" stroke-width="1.1"/>
<line x1="178" y1="786.3" x2="178" y2="794.6" stroke-width="1.1"/>
<line x1="245" y1="786.3" x2="245" y2="794.6" stroke-width="1.1"/>
<line x1="311.75" y1="786.3" x2="311.75" y2="794.6" stroke-width="1.1"/>
<line x1="378.5" y1="786.3" x2="378.5" y2="794.6" stroke-width="1.1"/>
<line x1="445.5" y1="786.3" x2="445.5" y2="794.6" stroke-width="1.1"/>
<line x1="517.25" y1="786.3" x2="517.25" y2="794.6" stroke-width="1.1"/>
<line x1="607" y1="786.3" x2="607" y2="794.6" stroke-width="1.1"/>
<line x1="699.5" y1="786.3" x2="699.5" y2="794.6" stroke-width="1.1"/>
<line x1="795.5" y1="786.3" x2="795.5" y2="794.6" stroke-width="1.1"/>
<line x1="897.75" y1="786.3" x2="897.75" y2="794.6" stroke-width="1.1"/>
</g>
<circle cx="124.7" cy="758.2" r="7.4" fill="#6fb0ae"/>
<circle cx="176.5" cy="687.8" r="6.8" fill="#62acae"/>
<circle cx="243.1" cy="551.7" r="6.9" fill="#5cc0c4"/>
<circle cx="275.5" cy="503.3" r="7.3" fill="#5cc0c4"/>
<circle cx="310" cy="555.6" r="7" fill="#5cc0c4"/>
<circle cx="418.5" cy="729.25" r="7.3" fill="#68b0ae"/>
<circle cx="514" cy="636.75" r="7" fill="#c5c193"/>
<circle cx="603.75" cy="533" r="7" fill="#5cc0c4"/>
<circle cx="644.5" cy="545" r="7" fill="#62c8c0"/>
<circle cx="709.5" cy="450" r="7" fill="#5cc0c4"/>
<circle cx="749.7" cy="386.25" r="7.3" fill="#5cc0c4"/>
<circle cx="789.6" cy="407" r="7.2" fill="#5cc0c4"/>
<circle cx="123.75" cy="770.6" r="7.2" fill="#f5ae73"/>
<circle cx="176.5" cy="757" r="6.8" fill="#f3b577"/>
<circle cx="273.6" cy="621" r="7" fill="#f3d07f"/>
<circle cx="308.4" cy="629.6" r="7" fill="#f3c87a"/>
<circle cx="418" cy="749.25" r="7" fill="#f2a878"/>
<circle cx="711.25" cy="471.25" r="7" fill="#f5d582"/>
<circle cx="790" cy="470" r="7.3" fill="#f5cc7c"/>
<text x="114.6" y="236.2" font-size="27.6" font-weight="bold" fill="#e6e4df">Speed Optinization</text>
<text x="100" y="262.9" font-size="19.3" text-anchor="end" fill="#d6d6d3">100</text>
<text x="100" y="327.59999999999997" font-size="19.3" text-anchor="end" fill="#d6d6d3">400</text>
<text x="100" y="391.4" font-size="19.3" text-anchor="end" fill="#d6d6d3">400</text>
<text x="100" y="455.2" font-size="19.3" text-anchor="end" fill="#d6d6d3">100</text>
<text x="100" y="519.6999999999999" font-size="19.3" text-anchor="end" fill="#d6d6d3">150</text>
<text x="100" y="583.9" font-size="19.3" text-anchor="end" fill="#d6d6d3">150</text>
<text x="100" y="648.1" font-size="19.3" text-anchor="end" fill="#d6d6d3">60</text>
<text x="100" y="713.4" font-size="19.3" text-anchor="end" fill="#d6d6d3">5</text>
<text x="100" y="780.6999999999999" font-size="19.3" text-anchor="end" fill="#d6d6d3">0</text>
<text x="114.6" y="817.7" font-size="19.3" text-anchor="middle" fill="#d6d6d3">0</text>
<text x="179" y="817.7" font-size="19.3" text-anchor="middle" fill="#d6d6d3">60</text>
<text x="246.6" y="817.7" font-size="19.3" text-anchor="middle" fill="#d6d6d3">60</text>
<text x="313.6" y="817.7" font-size="19.3" text-anchor="middle" fill="#d6d6d3">50</text>
<text x="377.8" y="817.7" font-size="19.3" text-anchor="middle" fill="#d6d6d3">460</text>
<text x="446.6" y="817.7" font-size="19.3" text-anchor="middle" fill="#d6d6d3">120</text>
<text x="517" y="817.7" font-size="19.3" text-anchor="middle" fill="#d6d6d3">180</text>
<text x="606" y="817.7" font-size="19.3" text-anchor="middle" fill="#d6d6d3">160</text>
<text x="699.5" y="817.7" font-size="19.3" text-anchor="middle" fill="#d6d6d3">200</text>
<text x="795.5" y="817.7" font-size="19.3" text-anchor="middle" fill="#d6d6d3">200</text>
<text x="896.6" y="817.7" font-size="19.3" text-anchor="middle" fill="#d6d6d3">300</text>
<text x="510" y="853" font-size="23.7" font-weight="bold" text-anchor="middle" fill="#ecebe6">Time phase</text>
<text transform="translate(58.5,493.2) rotate(-90)" font-size="22.5" letter-spacing="2.5" text-anchor="middle" fill="#e4e3df" stroke="#e4e3df" stroke-width="0.5">Pepoimzstice</text>
</svg></body></html>
